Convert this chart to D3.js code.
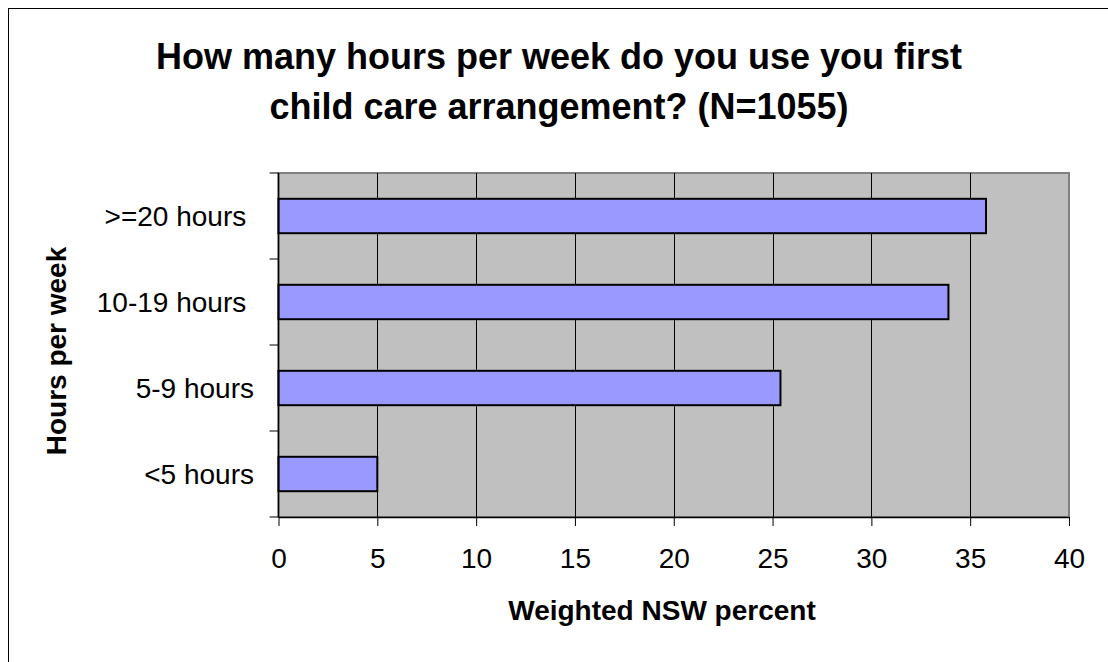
<!DOCTYPE html>
<html>
<head>
<meta charset="utf-8">
<script src="https://cdn.jsdelivr.net/npm/d3@7"></script>
<style>
  body { margin: 0; background: #fff; }
  text { font-family: Arial, "Liberation Sans", sans-serif; fill: #000; }
</style>
</head>
<body>
<div id="chart"></div>
<script>
var categories = [">=20 hours ", "10-19 hours ", "5-9 hours", "<5 hours"];
var values = [35.8, 33.9, 25.4, 5.0];
var xTicks = [0, 5, 10, 15, 20, 25, 30, 35, 40];
var titleLines = ["How many hours per week do you use you first", "child care arrangement? (N=1055)"];
var xTitle = "Weighted NSW percent";
var yTitle = "Hours per week";

var width = 1108, height = 662;
var svg = d3.select("#chart").append("svg")
    .attr("width", width)
    .attr("height", height);

// outer chart frame (runs off the right and bottom)
svg.append("rect")
    .attr("x", 8.5).attr("y", 8.5)
    .attr("width", width).attr("height", height)
    .attr("fill", "none").attr("stroke", "#000").attr("stroke-width", 1);

var plot = {left: 278.5, top: 173, right: 1069, bottom: 517};

var x = d3.scaleLinear().domain([0, 40]).range([plot.left, plot.right]);
var y = d3.scaleBand().domain(categories).range([plot.top, plot.bottom]).paddingInner(0.6).paddingOuter(0.3);
var yb = d3.scaleBand().domain(categories).range([plot.top, plot.bottom]);

// plot area
svg.append("rect")
    .attr("x", plot.left).attr("y", plot.top)
    .attr("width", plot.right - plot.left).attr("height", plot.bottom - plot.top)
    .attr("fill", "#c0c0c0").attr("stroke", "#808080").attr("stroke-width", 2);

// gridlines
svg.append("g").selectAll("line")
    .data(xTicks.slice(1, -1))
    .enter().append("line")
    .attr("x1", function(d) { return Math.round(x(d)) + 0.5; })
    .attr("x2", function(d) { return Math.round(x(d)) + 0.5; })
    .attr("y1", plot.top).attr("y2", plot.bottom)
    .attr("stroke", "#000").attr("stroke-width", 1);

// bars
svg.append("g").selectAll("rect")
    .data(values)
    .enter().append("rect")
    .attr("x", x(0))
    .attr("y", function(d, i) { return y(categories[i]); })
    .attr("width", function(d) { return x(d) - x(0); })
    .attr("height", y.bandwidth())
    .attr("fill", "#9999ff")
    .attr("stroke", "#000").attr("stroke-width", 2);

// x axis
var xAxis = svg.append("g")
    .attr("transform", "translate(0," + plot.bottom + ")")
    .call(d3.axisBottom(x).tickValues(xTicks).tickSize(9).tickPadding(22).tickSizeOuter(0));
xAxis.select(".domain").attr("stroke", "#000").attr("stroke-width", 1.5);
xAxis.selectAll(".tick line").attr("stroke", "#000");
xAxis.selectAll("text")
    .attr("font-size", 28)
    .attr("font-family", "Arial, 'Liberation Sans', sans-serif");

// y axis: ticks at band edges
var yAxis = svg.append("g");
yAxis.append("line")
    .attr("x1", plot.left).attr("x2", plot.left)
    .attr("y1", plot.top).attr("y2", plot.bottom)
    .attr("stroke", "#000").attr("stroke-width", 1.5);
yAxis.selectAll(".edge")
    .data(categories.concat(["end"]))
    .enter().append("line")
    .attr("x1", plot.left - 9).attr("x2", plot.left)
    .attr("y1", function(d, i) { return i < categories.length ? yb(d) : plot.bottom; })
    .attr("y2", function(d, i) { return i < categories.length ? yb(d) : plot.bottom; })
    .attr("stroke", "#000");
yAxis.selectAll("text")
    .data(categories)
    .enter().append("text")
    .attr("x", 254)
    .attr("y", function(d) { return yb(d) + yb.bandwidth() / 2; })
    .attr("dy", "0.35em")
    .attr("text-anchor", "end")
    .attr("font-size", 28)
    .style("white-space", "pre")
    .text(function(d) { return d; });

// titles
svg.append("g").selectAll("text")
    .data(titleLines)
    .enter().append("text")
    .attr("x", 559)
    .attr("y", function(d, i) { return 69 + i * 50; })
    .attr("text-anchor", "middle")
    .attr("font-size", 36)
    .attr("font-weight", "bold")
    .text(function(d) { return d; });

svg.append("text")
    .attr("x", 662).attr("y", 620)
    .attr("text-anchor", "middle")
    .attr("font-size", 28).attr("font-weight", "bold")
    .text(xTitle);

svg.append("text")
    .attr("transform", "translate(66,351) rotate(-90)")
    .attr("text-anchor", "middle")
    .attr("font-size", 28).attr("font-weight", "bold")
    .text(yTitle);
</script>
</body>
</html>
